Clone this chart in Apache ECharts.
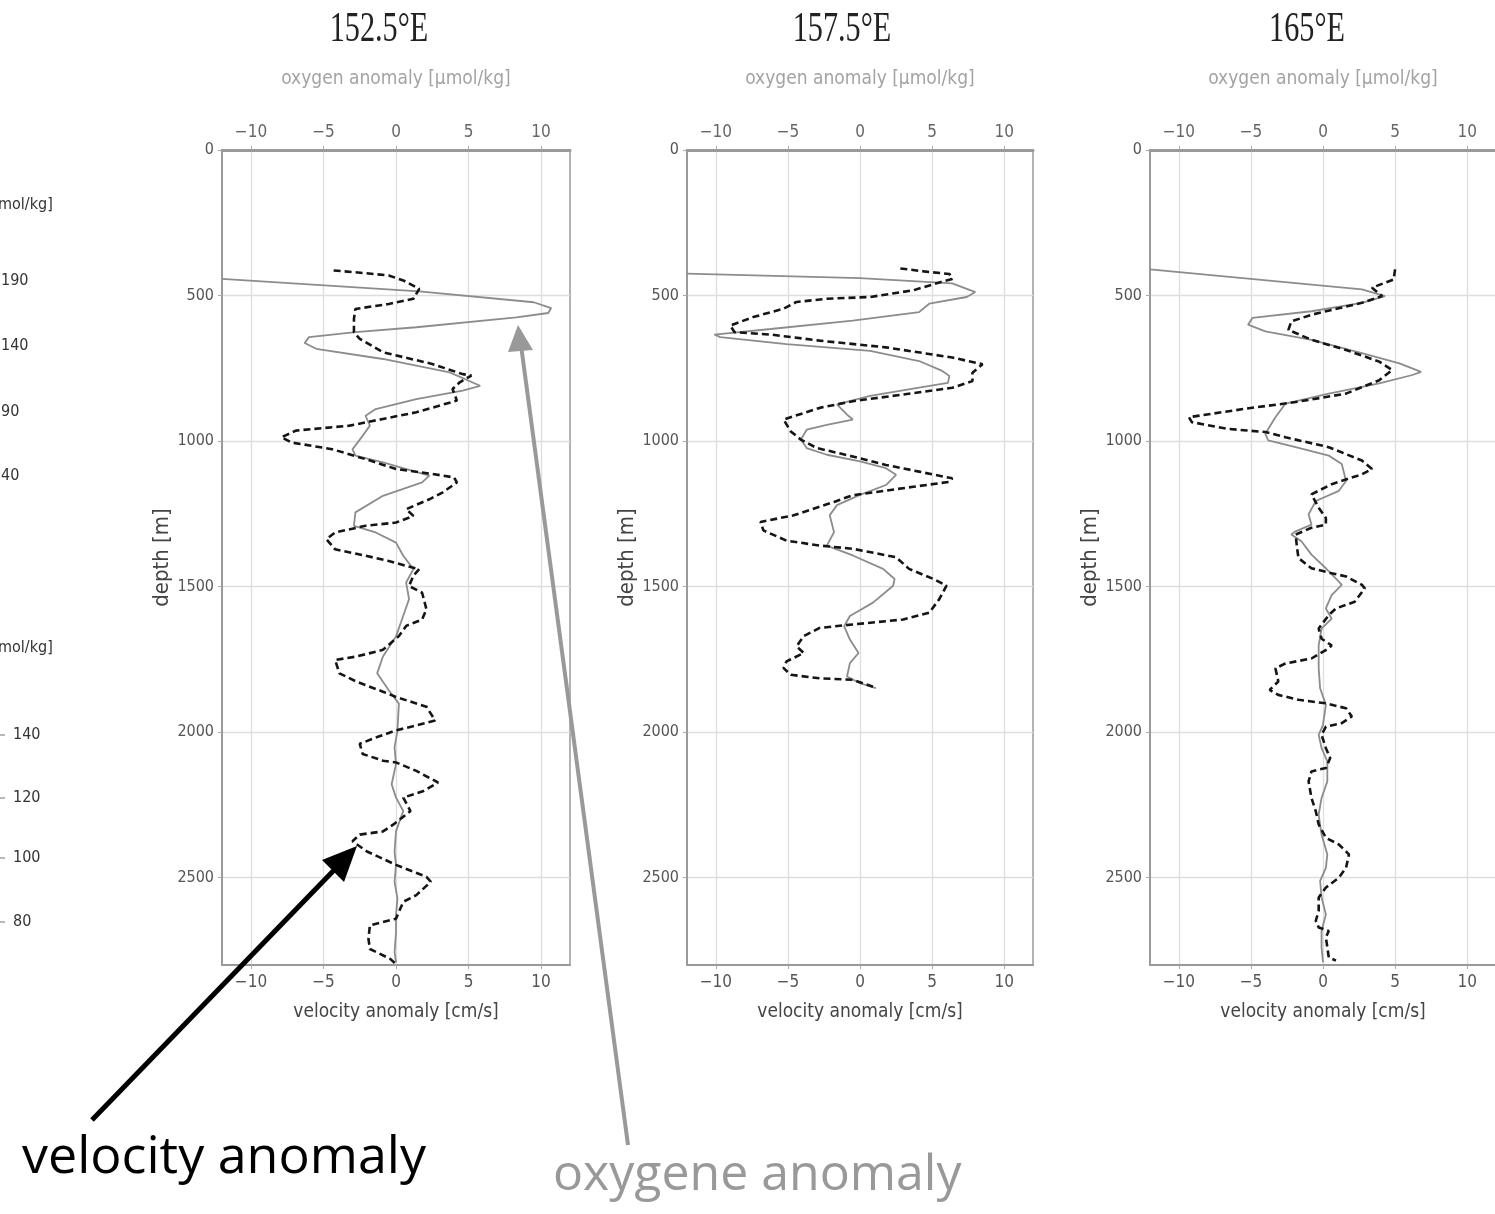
<!DOCTYPE html>
<html><head><meta charset="utf-8">
<script src="https://cdn.jsdelivr.net/npm/echarts@6/dist/echarts.min.js"></script>
<style>html,body{margin:0;padding:0;background:#fff}#c{width:1495px;height:1214px}</style>
</head><body><div id="c"></div>
<script>
// ---------- data ----------
const panelTitles = ['152.5°E', '157.5°E', '165°E'];
const xTicks = [-10, -5, 0, 5, 10];
const depthTicks = [0, 500, 1000, 1500, 2000, 2500];
const leftTicksTop = ['190', '140', '90', '40'];
const leftTicksBottom = ['140', '120', '100', '80'];

// [anomaly, depth(m)]
const oxy152 = [[-12,443],[1.6,486],[9.5,523],[10.7,543],[10.5,560],[8.3,575],[1.4,609],[-2.8,626],[-6.0,643],[-6.3,663],[-5.5,683],[-0.9,718],[3.7,764],[5.8,810],[4.6,827],[1.4,856],[-1.4,890],[-2.1,913],[-1.8,947],[-2.3,982],[-3.0,1028],[-2.8,1050],[-0.9,1073],[2.3,1119],[1.8,1142],[-0.9,1188],[-2.8,1245],[-2.9,1291],[-1.4,1314],[0,1349],[0.5,1394],[1.2,1440],[0.7,1486],[0.9,1543],[0.5,1600],[0,1671],[-0.9,1740],[-1.3,1798],[-0.5,1856],[0.2,1902],[0.1,1994],[-0.1,2052],[0,2110],[-0.3,2179],[0,2225],[0.5,2271],[0,2341],[-0.1,2410],[0,2456],[-0.1,2514],[0.1,2571],[0,2629],[0,2687],[-0.1,2756],[0,2791]];
const vel152 = [[-4.3,414],[-2.8,420],[-0.5,431],[0.5,448],[1.6,477],[1.2,511],[-0.5,529],[-2.8,546],[-2.9,580],[-2.9,626],[-2.5,649],[-0.9,695],[2.5,735],[4.6,770],[5.2,775],[4.4,798],[3.9,821],[4.2,861],[1.4,901],[-0.9,924],[-3.2,947],[-6.9,964],[-7.9,987],[-7.2,1005],[-4.4,1028],[-2.1,1062],[0,1096],[2.5,1113],[4.0,1125],[4.2,1142],[3.2,1177],[2.3,1200],[0.7,1234],[1.2,1257],[0,1280],[-2.1,1291],[-4.2,1314],[-4.8,1337],[-4.2,1372],[-2.1,1394],[-0.5,1412],[0.7,1429],[1.6,1440],[1.2,1463],[0.9,1498],[1.8,1521],[2.1,1578],[1.8,1613],[0.7,1635],[0.2,1670],[-0.9,1717],[-2.7,1740],[-4.2,1752],[-3.9,1798],[-2.7,1827],[-0.9,1861],[0,1879],[2.1,1913],[2.7,1960],[1.4,1977],[0,1994],[-1.3,2017],[-2.5,2040],[-2.3,2075],[-0.9,2098],[0,2104],[1.4,2133],[2.9,2173],[1.9,2202],[0.5,2225],[1.0,2271],[-0.2,2318],[-0.9,2341],[-2.5,2352],[-3.0,2375],[-2.0,2410],[0,2456],[2.1,2497],[2.4,2514],[1.4,2560],[0.5,2583],[0,2641],[-1.8,2664],[-1.9,2710],[-1.8,2745],[-0.4,2779],[0,2797]];

const oxy157 = [[-12,425],[0,440],[6.4,458],[8.0,488],[7.4,505],[4.8,528],[4.1,557],[-0.5,586],[-6.2,615],[-10.1,634],[-9.7,643],[-5.1,667],[0.7,690],[4.1,725],[5.7,759],[6.2,776],[6.1,800],[4.1,816],[0.7,845],[-1.6,874],[-0.9,909],[-0.5,926],[-2.3,944],[-3.7,961],[-4.1,995],[-3.7,1024],[-2.3,1047],[0,1070],[1.8,1093],[2.5,1116],[1.8,1151],[0,1185],[-1.6,1220],[-2.1,1255],[-1.8,1313],[-2.3,1359],[-0.5,1393],[1.6,1439],[2.4,1474],[2.3,1497],[0.9,1555],[-0.7,1601],[-1.1,1636],[-0.7,1682],[-0.1,1728],[-0.7,1763],[-0.9,1809],[0,1832],[1.1,1849]];
const vel157 = [[2.8,407],[4.6,418],[6.2,426],[6.4,443],[5.5,455],[3.7,482],[0.7,505],[-2.3,511],[-4.4,522],[-5.3,545],[-7.4,574],[-9.0,603],[-8.7,626],[-6.2,634],[-2.8,655],[1.8,678],[6.4,713],[8.5,736],[7.8,765],[7.8,794],[6.4,817],[3.0,840],[-0.5,863],[-2.8,886],[-5.3,926],[-4.8,967],[-4.1,995],[-3.0,1024],[-0.5,1053],[1.8,1082],[4.1,1105],[6.4,1128],[6.2,1140],[3.7,1157],[-0.5,1186],[-1.8,1209],[-4.6,1255],[-6.9,1278],[-6.7,1307],[-5.1,1342],[-2.8,1359],[-0.5,1370],[2.5,1399],[3.4,1439],[5.1,1474],[6.0,1497],[5.5,1543],[4.8,1590],[3.0,1613],[-0.5,1630],[-2.8,1642],[-3.9,1670],[-4.4,1705],[-3.9,1728],[-5.1,1757],[-5.3,1780],[-4.8,1803],[-2.8,1815],[-0.5,1820],[0.9,1844]];

const oxy165 = [[-12,410],[2.7,479],[4.3,502],[2.7,525],[-0.8,554],[-4.9,577],[-5.2,600],[-4.0,623],[-0.8,652],[2.7,698],[5.3,733],[6.8,762],[6.2,773],[3.9,802],[0.4,837],[-2.6,871],[-3.3,918],[-4.0,975],[-3.8,998],[-1.9,1021],[0.4,1050],[1.3,1079],[1.6,1137],[1.1,1171],[-0.5,1206],[-1.0,1252],[-0.8,1287],[-1.9,1310],[-2.2,1321],[-1.5,1344],[-0.8,1390],[0.2,1437],[1.1,1483],[1.3,1494],[0.6,1529],[0.2,1575],[0.6,1610],[-0.1,1644],[-0.3,1702],[-0.3,1781],[-0.2,1849],[0.2,1906],[0,1975],[-0.3,2009],[-0.1,2055],[0.3,2100],[0.3,2169],[-0.1,2226],[-0.3,2283],[-0.1,2352],[0.3,2420],[0.2,2466],[-0.2,2511],[-0.1,2568],[0.2,2626],[-0.1,2683],[-0.1,2740],[0,2791]];
const vel165 = [[5.0,410],[4.9,445],[3.4,473],[4.1,502],[2.7,525],[-0.8,566],[-2.2,589],[-2.4,618],[-0.8,652],[1.6,687],[3.9,727],[4.8,756],[3.9,791],[1.6,837],[-1.9,866],[-5.4,889],[-9.3,918],[-9.1,935],[-6.6,958],[-4.0,969],[-2.6,987],[0.4,1021],[2.7,1067],[3.4,1096],[2.7,1114],[0.6,1148],[-0.8,1183],[-0.3,1229],[0.2,1264],[0.2,1287],[-0.8,1298],[-1.9,1321],[-1.8,1367],[-1.7,1402],[-0.8,1437],[0.6,1454],[1.6,1465],[2.7,1494],[2.9,1506],[2.2,1552],[0.9,1575],[0.4,1598],[-0.3,1644],[-0.1,1679],[0.6,1702],[0.4,1712],[-0.8,1747],[-2.6,1764],[-3.3,1781],[-3.1,1826],[-3.7,1855],[-3.1,1872],[-1.7,1889],[0.2,1901],[1.6,1918],[2.0,1946],[1.3,1969],[0.2,1981],[-0.1,2009],[0.2,2055],[0.5,2089],[0.2,2123],[-0.8,2135],[-1.0,2169],[-0.8,2226],[-0.5,2272],[-0.3,2317],[0.2,2363],[1.1,2386],[1.8,2420],[1.6,2466],[1.1,2500],[0.2,2534],[-0.3,2568],[-0.3,2614],[-0.5,2648],[-0.3,2671],[0.4,2683],[0.2,2705],[0.4,2774],[0.9,2785]];

const oxySeries = [oxy152, oxy157, oxy165];
const velSeries = [vel152, vel157, vel165];

// ---------- layout ----------
const gridLefts = [222, 687, 1150];
const gridWidths = [348, 346, 346];
const titleCenters = [379, 842, 1307];
const GT = 150, GH = 815;
const tickFont = "'DejaVu Sans Condensed','DejaVu Sans',sans-serif";
const minus = v => String(v).replace('-', '\u2212');

const grids = [], xAxes = [], yAxes = [], series = [];
for (let i = 0; i < 3; i++) {
  grids.push({left: gridLefts[i], top: GT, width: gridWidths[i], height: GH,
    show: true, borderColor: '#9a9a9a', borderWidth: 1.5, backgroundColor: '#fff',
    outerBoundsMode: 'none', containLabel: false});
  // bottom: velocity
  xAxes.push({type: 'value', gridIndex: i, position: 'bottom', min: -12, max: 12,
    axisLine: {show: true, onZero: false, lineStyle: {color: '#999', width: 2}},
    axisTick: {show: true, customValues: xTicks, length: 4, lineStyle: {color: '#aaa'}},
    axisLabel: {customValues: xTicks, formatter: minus, color: '#555', fontSize: 17, margin: 9, fontFamily: tickFont},
    splitLine: {show: true, lineStyle: {color: '#dedede', width: 1.3}},
    name: 'velocity anomaly [cm/s]', nameLocation: 'middle', nameGap: 38,
    nameTextStyle: {color: '#444', fontSize: 19, fontFamily: tickFont}});
  // top: oxygen
  xAxes.push({type: 'value', gridIndex: i, position: 'top', min: -12, max: 12,
    axisLine: {show: true, onZero: false, lineStyle: {color: '#9a9a9a', width: 3}},
    axisTick: {show: true, customValues: xTicks, length: 4, lineStyle: {color: '#aaa'}},
    axisLabel: {customValues: xTicks, formatter: minus, color: '#666', fontSize: 17, margin: 9, fontFamily: tickFont},
    splitLine: {show: false},
    name: 'oxygen anomaly [µmol/kg]', nameLocation: 'middle', nameGap: 61,
    nameTextStyle: {color: '#a3a3a3', fontSize: 19, fontFamily: tickFont}});
  yAxes.push({type: 'value', gridIndex: i, inverse: true, min: 0, max: 2800,
    axisLine: {show: true, onZero: false, lineStyle: {color: '#9a9a9a', width: 2}},
    axisTick: {show: true, customValues: depthTicks, length: 4, lineStyle: {color: '#aaa'}},
    axisLabel: {customValues: depthTicks, formatter: v => String(v), color: '#555', fontSize: 16, margin: 8, fontFamily: tickFont},
    splitLine: {show: true, lineStyle: {color: '#dedede', width: 1.3}},
    name: 'depth [m]', nameLocation: 'middle', nameGap: 45,
    nameTextStyle: {color: '#444', fontSize: 22, fontFamily: tickFont}});
  series.push({type: 'line', name: 'oxygen anomaly ' + panelTitles[i], xAxisIndex: 2 * i + 1, yAxisIndex: i,
    data: oxySeries[i], symbol: 'none', showSymbol: false, clip: true,
    lineStyle: {color: '#8c8c8c', width: 1.8}, z: 3});
  series.push({type: 'line', name: 'velocity anomaly ' + panelTitles[i], xAxisIndex: 2 * i, yAxisIndex: i,
    data: velSeries[i], symbol: 'none', showSymbol: false, clip: true,
    lineStyle: {color: '#151515', width: 2.6, type: [7, 4]}, z: 4});
}

const graphic = [];
panelTitles.forEach((t, i) => {
  graphic.push({type: 'text', x: titleCenters[i], y: 30, scaleX: 0.72,
    style: {text: t, font: "42px 'Liberation Serif', serif", fill: '#222', align: 'center', verticalAlign: 'middle'}});
});
// fragments of the cut-off panel at the left edge
const fragFont = "16px 'DejaVu Sans Condensed','DejaVu Sans',sans-serif";
graphic.push({type: 'text', x: -2, y: 205, style: {text: 'mol/kg]', font: fragFont, fill: '#333', verticalAlign: 'middle'}});
graphic.push({type: 'text', x: -2, y: 648, style: {text: 'mol/kg]', font: fragFont, fill: '#333', verticalAlign: 'middle'}});
const topYs = [281, 346, 412, 476];
leftTicksTop.forEach((t, k) => graphic.push({type: 'text', x: 1, y: topYs[k],
  style: {text: t, font: fragFont, fill: '#333', verticalAlign: 'middle'}}));
const botYs = [735, 798, 858, 922];
leftTicksBottom.forEach((t, k) => {
  graphic.push({type: 'text', x: 13, y: botYs[k], style: {text: t, font: fragFont, fill: '#333', verticalAlign: 'middle'}});
  graphic.push({type: 'line', shape: {x1: 0, y1: botYs[k], x2: 5, y2: botYs[k]}, style: {stroke: '#888', lineWidth: 1.2}});
});
// annotation arrows
graphic.push({type: 'line', shape: {x1: 92, y1: 1120, x2: 338, y2: 866}, style: {stroke: '#000', lineWidth: 5}, z: 50});
graphic.push({type: 'polygon', shape: {points: [[357, 846], [344, 882], [322, 860]]}, style: {fill: '#000'}, z: 50});
graphic.push({type: 'line', shape: {x1: 628, y1: 1145, x2: 521, y2: 345}, style: {stroke: '#999', lineWidth: 4}, z: 50});
graphic.push({type: 'polygon', shape: {points: [[518, 325], [533, 350], [508, 352]]}, style: {fill: '#999'}, z: 50});
graphic.push({type: 'text', x: 22, y: 1158, style: {text: 'velocity anomaly', font: "52px 'Open Sans', sans-serif", fill: '#000', verticalAlign: 'middle'}, z: 50});
graphic.push({type: 'text', x: 553, y: 1176, style: {text: 'oxygene anomaly', font: "50px 'Open Sans', sans-serif", fill: '#999', verticalAlign: 'middle'}, z: 50});

const chart = echarts.init(document.getElementById('c'), null, {renderer: 'canvas'});
chart.setOption({
  animation: false,
  backgroundColor: '#fff',
  grid: grids, xAxis: xAxes, yAxis: yAxes, series: series, graphic: graphic
});
</script></body></html>
